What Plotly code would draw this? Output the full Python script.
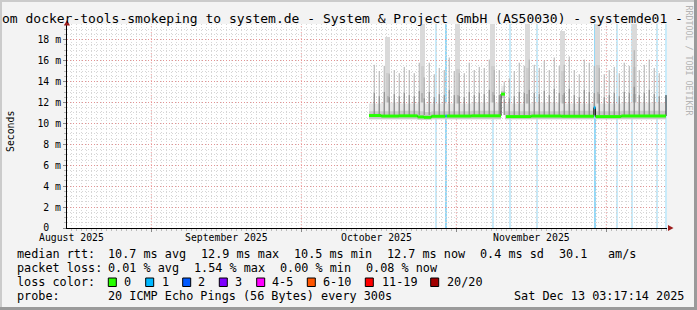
import plotly.graph_objects as go
import pandas as pd

# ---------------- data ----------------
x_start = "2025-08-15 03:17:14"
x_end = "2025-12-13 03:17:14"

month_starts = ["2025-09-01", "2025-10-01", "2025-11-01", "2025-12-01"]
month_label_dates = ["2025-08-16", "2025-09-16", "2025-10-16", "2025-11-16"]
month_labels = ["August 2025", "September 2025", "October 2025", "November 2025"]

y_tick_vals = [0, 2, 4, 6, 8, 10, 12, 14, 16, 18]
y_tick_text = ["0\u00a0\u00a0", "2 m", "4 m", "6 m", "8 m", "10 m", "12 m", "14 m", "16 m", "18 m"]

# median rtt (ms) as steps: value holds from time i until time i+1; last entry = "now"
median_times = ["2025-10-14 13:00", "2025-10-17 00:00", "2025-10-20 12:00", "2025-10-24 06:00",
                "2025-10-25 12:00", "2025-10-27 00:00", "2025-10-29 20:00", "2025-10-30 02:00",
                "2025-11-04 00:00", "2025-11-09 22:30", "2025-11-10 17:30", "2025-11-10 22:30",
                "2025-11-16 00:00", "2025-11-22 00:00", "2025-11-28 12:00", "2025-11-28 20:00",
                "2025-12-04 00:00", "2025-12-12 22:30"]
median_vals = [10.75, 10.70, 10.72, 10.62, 10.58, 10.68, 10.70, 10.70,
               10.72, 12.80, None, 10.65, 10.70, 10.68, 11.50, 10.65,
               10.70, 12.70]
median_loss = [0, 0, 0, 0, 0, 0, 1, 0, 0, 0, 0, 0, 0, 0, 1, 0, 0, 0]

smoke_low = [10.40, 10.40, 10.40, 10.35, 10.35, 10.40, 10.40, 10.40, 10.40, 12.40, 10.40,
             10.40, 10.40, 10.40, 11.10, 10.40, 10.40, 10.40]
smoke_mid = [11.15, 11.15, 11.20, 11.15, 11.10, 11.15, 11.15, 11.15, 11.20, 13.10, 11.15,
             11.15, 11.15, 11.20, 11.80, 11.15, 11.20, 11.20]
smoke_high = [11.90, 12.00, 11.90, 12.00, 11.90, 11.90, 12.00, 11.90, 12.00, 13.60, 11.90,
              11.90, 12.00, 11.90, 12.30, 11.90, 12.00, 12.00]

# daily outlier spikes (ms), one per day from spike_start
spike_start = "2025-10-15 14:00"
spike_tops = [15.6, 15.0, 15.5, 14.7, 15.1, 14.8, 15.4, 15.1, 14.8, 15.8,
              14.4, 15.8, 14.7, 15.3, 15.1, 16.3, 15.0, 14.8, 14.8, 15.8,
              15.1, 15.4, 15.3, 16.1, 15.1, 15.1, 14.0, 14.3, 15.0, 15.8,
              15.5, 16.1, 15.6, 15.3, 16.0, 15.1, 16.3, 15.5, 15.6, 16.4,
              15.1, 14.7, 16.1, 15.8, 15.5, 15.3, 14.7, 15.1, 15.4, 14.8,
              15.8, 15.5, 17.0, 15.1, 15.6, 16.1, 15.3, 14.8]
spike_knees = [12.9, 12.6, 13.0, 12.5, 12.8, 12.6, 12.9, 12.7, 12.6, 13.1,
               12.4, 13.0, 12.5, 12.8, 12.7, 13.2, 12.7, 12.6, 12.5, 13.0,
               12.7, 12.9, 12.8, 13.2, 12.7, 12.7, 12.3, 12.4, 12.6, 13.0,
               12.9, 13.2, 12.9, 12.8, 13.1, 12.7, 13.3, 12.9, 12.9, 13.3,
               12.7, 12.5, 13.2, 13.0, 12.9, 12.8, 12.5, 12.7, 12.9, 12.6,
               13.0, 12.9, 13.5, 12.7, 12.9, 13.2, 12.8, 12.6]
spike_base = 10.8

# weekly (Saturday) wide smoke bands
band_times = ["2025-10-18 07:00", "2025-10-25 05:00", "2025-11-01 08:00", "2025-11-08 08:00",
              "2025-11-15 05:00", "2025-11-22 08:00", "2025-11-29 08:00", "2025-12-06 15:00"]
band_tops = [18.3, 19.6, 19.6, 19.6, 19.6, 18.8, 19.6, 19.6]
band_mids = [14.8, 15.5, 15.2, 15.5, 15.3, 15.0, 15.6, 15.4]
band_cores = [12.6, 12.9, 12.7, 13.0, 12.8, 12.7, 13.0, 12.8]

# loss background marks (time, strength)
loss_bg_times = ["2025-10-27 22:30", "2025-10-29 22:30", "2025-11-08 08:00", "2025-11-11 17:40",
                 "2025-11-17 03:17", "2025-11-28 17:40", "2025-12-03 03:17", "2025-12-06 03:17",
                 "2025-12-11 03:17", "2025-12-12 22:30"]
loss_bg_level = [1, 2, 1, 1, 1, 2, 1, 1, 1, 1]

loss_colors = ["#26ff00", "#00b8ff", "#0059ff", "#7e00ff", "#ff00ff", "#ff5500", "#ff0000", "#a10000"]
loss_names = ["0", "1", "2", "3", "4-5", "6-10", "11-19", "20/20"]

rtt_label = "median rtt:"
rtt_items = ["10.7 ms avg", "12.9 ms max", "10.5 ms min", "12.7 ms now", "0.4 ms sd", "30.1", "am/s"]
loss_label = "packet loss:"
loss_items = ["0.01 % avg", "1.54 % max", "0.00 % min", "0.08 % now"]
probe_text = "20 ICMP Echo Pings (56 Bytes) every 300s"
stamp_text = "Sat Dec 13 03:17:14 2025"
title_text = "om docker-tools-smokeping to system.de - System & Project GmbH (AS50030) - systemde01 -"

# ---------------- layout helpers (pixel -> paper) ----------------
W, H = 697, 310
PL, PT, PW, PH = 67, 24, 600, 204
FONT = "DejaVu Sans Mono"


def px(x):
    return (x - PL) / PW


def py(y):
    return (PT + PH - y) / PH


fig = go.Figure()

# smoke: light band
fig.add_trace(go.Scatter(x=median_times, y=smoke_low, mode="lines", line=dict(width=0, shape="hv"),
                         hoverinfo="skip", showlegend=False))
fig.add_trace(go.Scatter(x=median_times, y=smoke_high, mode="lines", line=dict(width=0, shape="hv"),
                         fill="tonexty", fillcolor="#e6e6e6", hoverinfo="skip", showlegend=False))
# smoke: weekly bands
DAY_MS = 86400000
fig.add_trace(go.Bar(x=band_times, y=[t - spike_base for t in band_tops], base=spike_base,
                     width=DAY_MS * 1.0, marker=dict(color="#dadada", line=dict(width=0)),
                     hoverinfo="skip", showlegend=False))
fig.add_trace(go.Bar(x=band_times, y=[t - spike_base for t in band_mids], base=spike_base,
                     width=DAY_MS * 0.7, marker=dict(color="#cdcdcd", line=dict(width=0)),
                     hoverinfo="skip", showlegend=False))
fig.add_trace(go.Bar(x=band_times, y=[t - spike_base for t in band_cores], base=spike_base,
                     width=DAY_MS * 0.45, marker=dict(color="#b4b4b4", line=dict(width=0)),
                     hoverinfo="skip", showlegend=False))
# smoke: medium band
fig.add_trace(go.Scatter(x=median_times, y=smoke_low, mode="lines", line=dict(width=0, shape="hv"),
                         hoverinfo="skip", showlegend=False))
fig.add_trace(go.Scatter(x=median_times, y=smoke_mid, mode="lines", line=dict(width=0, shape="hv"),
                         fill="tonexty", fillcolor="#c9c9c9", hoverinfo="skip", showlegend=False))
# daily spikes: light upper part, darker lower part
spike_times = pd.date_range(spike_start, periods=len(spike_tops), freq="D")
sx, sy, kx, ky = [], [], [], []
for t, top, knee in zip(spike_times, spike_tops, spike_knees):
    sx += [t, t, None]
    sy += [spike_base, top, None]
    kx += [t, t, None]
    ky += [spike_base, knee, None]
fig.add_trace(go.Scatter(x=sx, y=sy, mode="lines", line=dict(color="#acacac", width=1),
                         hoverinfo="skip", showlegend=False))
fig.add_trace(go.Scatter(x=kx, y=ky, mode="lines", line=dict(color="#858585", width=1),
                         hoverinfo="skip", showlegend=False))

# median: dark step line, then coloured horizontal segments
fig.add_trace(go.Scatter(x=median_times, y=median_vals, mode="lines",
                         line=dict(color="#1a1a1a", width=1, shape="hv"),
                         connectgaps=False, hoverinfo="skip", showlegend=False))
for lvl in sorted(set(median_loss)):
    gx, gy = [], []
    for i in range(len(median_times) - 1):
        if median_vals[i] is None or median_loss[i] != lvl:
            continue
        gx += [median_times[i], median_times[i + 1], None]
        gy += [median_vals[i], median_vals[i], None]
    if gx:
        fig.add_trace(go.Scatter(x=gx, y=gy, mode="lines",
                                 line=dict(color=loss_colors[lvl], width=3),
                                 hoverinfo="skip", showlegend=False))

shapes = []
# loss background vertical marks
for t, lv in zip(loss_bg_times, loss_bg_level):
    shapes.append(dict(type="line", xref="x", yref="paper", x0=t, x1=t, y0=0, y1=1,
                       line=dict(color="#b6e4f8" if lv == 1 else "#94d8f6", width=1.5 if lv == 1 else 2),
                       layer="below"))
# major vertical grid (month starts)
for m in month_starts:
    shapes.append(dict(type="line", xref="x", yref="paper", x0=m, x1=m, y0=0, y1=1,
                       line=dict(color="rgba(240,80,80,0.5)", width=1, dash="1px,2px"),
                       layer="below"))

# frame
shapes += [
    dict(type="rect", xref="paper", yref="paper", x0=px(0), x1=px(W), y0=py(0), y1=py(2),
         fillcolor="#cbcbcb", line=dict(width=0)),
    dict(type="rect", xref="paper", yref="paper", x0=px(0), x1=px(2), y0=py(0), y1=py(H),
         fillcolor="#cbcbcb", line=dict(width=0)),
    dict(type="rect", xref="paper", yref="paper", x0=px(0), x1=px(W), y0=py(307), y1=py(H),
         fillcolor="#9a9a9a", line=dict(width=0)),
    dict(type="rect", xref="paper", yref="paper", x0=px(694), x1=px(W), y0=py(0), y1=py(H),
         fillcolor="#9a9a9a", line=dict(width=0)),
]
# axis arrows
shapes.append(dict(type="path", xref="paper", yref="paper",
                   path=f"M {px(64)} {py(25.5)} L {px(70)} {py(25.5)} L {px(67)} {py(20)} Z",
                   fillcolor="#9b1c1c", line=dict(width=0)))
shapes.append(dict(type="path", xref="paper", yref="paper",
                   path=f"M {px(668)} {py(225)} L {px(668)} {py(231)} L {px(673.5)} {py(228)} Z",
                   fillcolor="#9b1c1c", line=dict(width=0)))

annotations = []


def ann(text, x, y, size=11.8, anchor="left", color="#000000", angle=0):
    annotations.append(dict(text=text, xref="paper", yref="paper", x=px(x), y=py(y),
                            xanchor=anchor, yanchor="middle", showarrow=False, textangle=angle,
                            font=dict(family=FONT, size=size, color=color), borderpad=0))


# title
ann(title_text, 1, 18.5, size=13)
# watermark
ann("RRDTOOL / TOBI OETIKER", 688.5, 60, size=8.3, anchor="center", color="#b4b4b4", angle=90)
# y-axis unit
ann("Seconds", 10, 132, size=9.8, anchor="center", angle=-90)
# month labels
for d, lab in zip(month_label_dates, month_labels):
    annotations.append(dict(text=lab, xref="x", yref="paper", x=d, y=py(237.7), xanchor="center",
                            yanchor="middle", showarrow=False,
                            font=dict(family=FONT, size=9.8, color="#000000"), borderpad=0))

# legend line 1
ann(rtt_label, 16, 254.3)
for txt, x in zip(rtt_items, [107.3, 200, 293.3, 386, 479.3, 558.3, 607.3]):
    ann(txt, x, 254.3)
# legend line 2
ann(loss_label, 16, 268.3)
for txt, x in zip(loss_items, [107.3, 193.2, 279.3, 365]):
    ann(txt, x, 268.3)
# legend line 3
ann("loss color:", 16, 282.3)
box_x = [108.3, 145.7, 182.7, 219.3, 256.7, 307.3, 365.3, 430.7]
lab_x = [123.3, 161, 197, 234, 270.7, 321.7, 380.7, 445.7]
for c, n, bx, lx in zip(loss_colors, loss_names, box_x, lab_x):
    shapes.append(dict(type="rect", xref="paper", yref="paper", x0=px(bx), x1=px(bx + 8),
                       y0=py(286.5), y1=py(278), fillcolor=c, line=dict(color="#000000", width=1)))
    ann(n, lx, 282.3)
# legend line 4
ann("probe:", 16, 296)
ann(probe_text, 107.3, 296)
ann(stamp_text, 513.3, 296)

fig.update_layout(
    width=W, height=H,
    margin=dict(l=PL, r=W - PL - PW, t=PT, b=H - PT - PH, pad=0),
    paper_bgcolor="#f3f3f3", plot_bgcolor="#ffffff",
    barmode="overlay", bargap=0,
    showlegend=False,
    shapes=shapes, annotations=annotations,
    font=dict(family=FONT, size=9.8, color="#000000"),
    xaxis=dict(type="date", range=[x_start, x_end], showgrid=False, zeroline=False,
               showline=True, linecolor="#000000", linewidth=1,
               tickvals=month_starts, showticklabels=False, ticks="outside", ticklen=3,
               tickcolor="#888888",
               minor=dict(dtick=DAY_MS, tick0="2025-08-01", showgrid=True,
                          gridcolor="#d6d6d6", griddash="1px,2px", gridwidth=1,
                          ticks="outside", ticklen=2, tickcolor="#bbbbbb")),
    yaxis=dict(range=[0, 19.5], tickvals=y_tick_vals, ticktext=y_tick_text,
               showgrid=True, gridcolor="rgba(240,80,80,0.5)", griddash="1px,2px", gridwidth=1,
               zeroline=False, showline=True, linecolor="#000000", linewidth=1,
               ticks="outside", ticklen=3, tickcolor="#888888",
               tickfont=dict(family=FONT, size=9.8, color="#000000"),
               minor=dict(dtick=0.5, showgrid=True, gridcolor="#d6d6d6", griddash="1px,2px",
                          ticks="outside", ticklen=2, tickcolor="#bbbbbb")),
)

fig.write_html("out.html")
